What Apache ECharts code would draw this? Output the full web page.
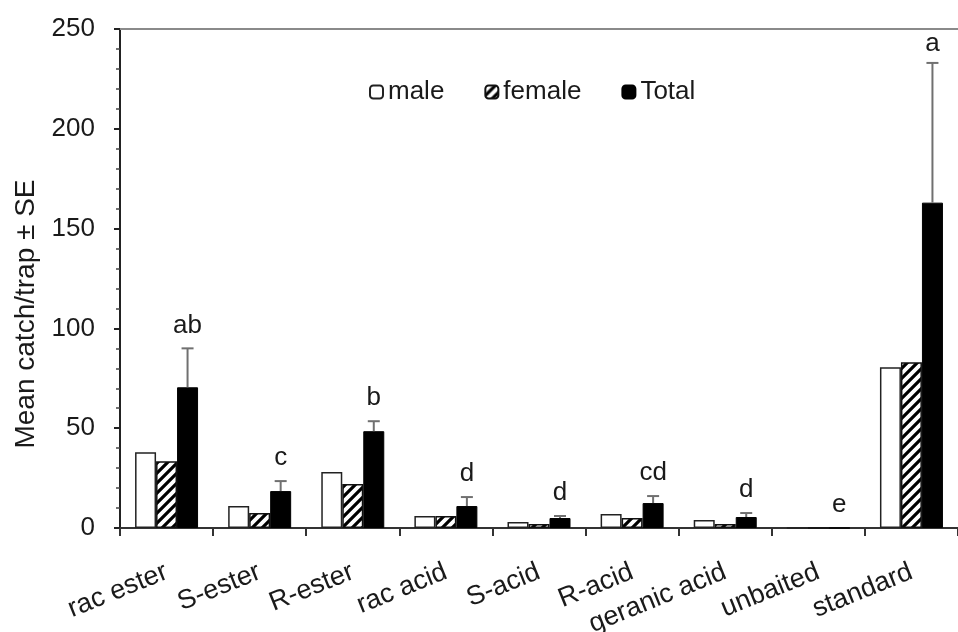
<!DOCTYPE html>
<html>
<head>
<meta charset="utf-8">
<script src="https://cdn.jsdelivr.net/npm/echarts@6/dist/echarts.min.js"></script>
<style>
  html, body {margin: 0; padding: 0; background: #fff;}
  #chart {width: 958px; height: 632px;}
</style>
</head>
<body>
<div id="chart"></div>
<script>
var categories = ['rac ester', 'S-ester', 'R-ester', 'rac acid', 'S-acid', 'R-acid', 'geranic acid', 'unbaited', 'standard'];
var male = [38, 11, 28, 6, 3, 7, 4, 0, 80.5];
var female = [33.5, 7.5, 22, 6, 2, 5, 2, 0, 83];
var total = [70.5, 18.5, 48.5, 11, 5, 12.5, 5.5, 0, 163];
var totalSE = [19.5, 5, 5, 4.5, 1, 3.5, 2, 0, 70];
var letters = ['ab', 'c', 'b', 'd', 'd', 'cd', 'd', 'e', 'a'];

var FONT = 'Liberation Sans, Arial, sans-serif';
var TXT = '#1a1a1a';

// diagonal hatch for the female bars
function makeHatch() {
  var c = document.createElement('canvas');
  c.width = 10; c.height = 10;
  var ctx = c.getContext('2d');
  ctx.fillStyle = '#fff';
  ctx.fillRect(0, 0, 10, 10);
  ctx.strokeStyle = '#000';
  ctx.lineWidth = 3.2;
  ctx.beginPath();
  ctx.moveTo(-5, 5); ctx.lineTo(5, -5);
  ctx.moveTo(0, 10); ctx.lineTo(10, 0);
  ctx.moveTo(5, 15); ctx.lineTo(15, 5);
  ctx.stroke();
  return c;
}

var chart = echarts.init(document.getElementById('chart'));

var errData = total.map(function (v, i) { return [i, v, totalSE[i]]; });

chart.setOption({
  animation: false,
  textStyle: {fontFamily: FONT},
  grid: {left: 120, right: 0, top: 29, bottom: 104, outerBoundsMode: 'none', containLabel: false},
  graphic: [{
    type: 'text',
    x: 26, y: 314,
    rotation: Math.PI / 2,
    style: {
      text: 'Mean catch/trap ± SE',
      font: '28px ' + FONT, fill: TXT,
      align: 'center', verticalAlign: 'middle'
    }
  }],
  legend: {
    left: 364, top: 74,
    itemWidth: 13, itemHeight: 13, itemGap: 40,
    textStyle: {fontSize: 26, color: TXT, fontFamily: FONT},
    data: ['male', 'female', 'Total']
  },
  xAxis: [
    {
      type: 'category',
      data: categories,
      axisLine: {lineStyle: {color: '#333', width: 2}},
      axisTick: {show: true, length: 8, lineStyle: {color: '#333', width: 2}},
      axisLabel: {rotate: 22, fontSize: 27, fontFamily: FONT, color: TXT, margin: 43, interval: 0}
    },
    {
      type: 'category',
      position: 'top',
      data: categories,
      axisLine: {lineStyle: {color: '#8a8a8a', width: 2}},
      axisTick: {show: false},
      axisLabel: {show: false}
    }
  ],
  yAxis: {
    type: 'value',
    min: 0, max: 250, interval: 50,
    axisLine: {show: true, lineStyle: {color: '#222', width: 2}},
    axisTick: {show: true, length: 6, lineStyle: {color: '#222', width: 2}},
    minorTick: {show: true, splitNumber: 5, length: 4, lineStyle: {color: '#444', width: 1.5}},
    splitLine: {show: false},
    axisLabel: {fontSize: 26, fontFamily: FONT, color: TXT, margin: 25}
  },
  series: [
    {
      name: 'male', type: 'bar', data: male,
      barWidth: 21, barGap: '0%',
      itemStyle: {color: '#fff', borderColor: '#222', borderWidth: 1.5}
    },
    {
      name: 'female', type: 'bar', data: female,
      barWidth: 21, barGap: '0%',
      itemStyle: {color: {image: makeHatch(), repeat: 'repeat'}, borderColor: '#111', borderWidth: 1.5}
    },
    {
      name: 'Total', type: 'bar', data: total,
      barWidth: 21, barGap: '0%',
      itemStyle: {color: '#000', borderColor: '#000', borderWidth: 1}
    },
    {
      type: 'custom',
      data: errData,
      z: 10,
      renderItem: function (params, api) {
        var i = api.value(0), v = api.value(1), se = api.value(2);
        var base = api.coord([i, v]);
        var top = api.coord([i, v + se]);
        var x = base[0] + 21;
        var kids = [];
        if (se > 0) {
          kids.push({type: 'line', shape: {x1: x, y1: base[1], x2: x, y2: top[1]}, style: {stroke: '#707070', lineWidth: 2}});
          kids.push({type: 'line', shape: {x1: x - 6, y1: top[1], x2: x + 6, y2: top[1]}, style: {stroke: '#707070', lineWidth: 2}});
        }
        kids.push({
          type: 'text',
          style: {
            x: x, y: top[1] - (se > 20 ? 6 : 10),
            text: letters[params.dataIndex],
            fill: TXT, font: '26px ' + FONT,
            align: 'center', verticalAlign: 'bottom'
          }
        });
        return {type: 'group', children: kids};
      }
    }
  ]
});
</script>
</body>
</html>
